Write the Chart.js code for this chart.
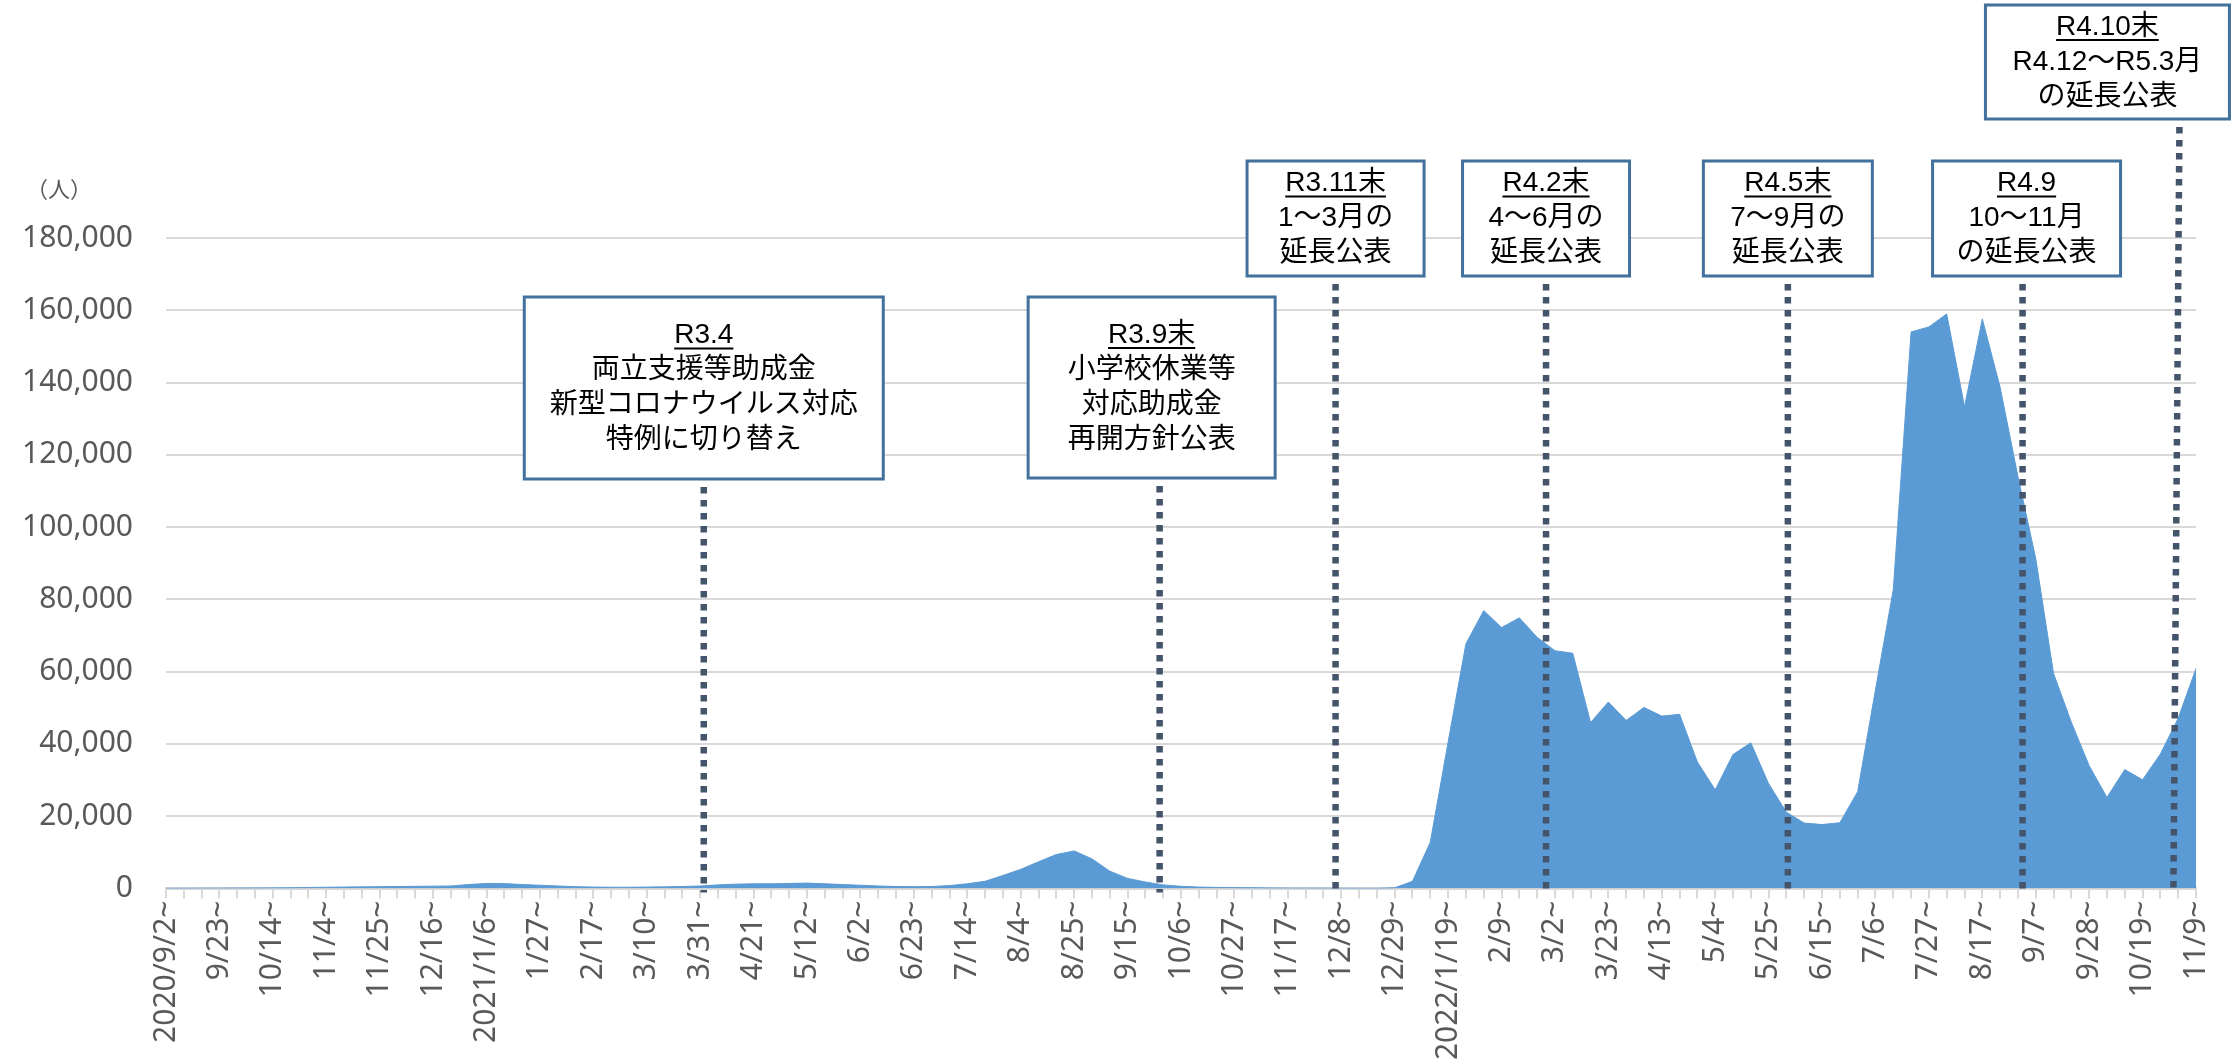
<!DOCTYPE html>
<html lang="ja">
<head>
<meta charset="utf-8">
<script src="https://cdn.jsdelivr.net/npm/chart.js@4.4.1/dist/chart.umd.min.js"></script>
<style>
	html, body { margin: 0; padding: 0; background: #fff; }
	#wrap { position: relative; width: 2234px; height: 1064px; }
</style>
</head>
<body>
<div id="wrap"><canvas id="chart"></canvas></div>
<script>
// weekly values from 2020/9/2 to 2022/11/9 (people)
const weeklyCount = [
	50, 60, 80, 100, 120, 150, 170, 200, 280, 350,
	400, 450, 500, 550, 600, 650, 700, 1100, 1400, 1350,
	1100, 900, 700, 500, 400, 350, 350, 400, 450, 550,
	700, 1000, 1200, 1300, 1300, 1400, 1500, 1300, 1100, 900,
	700, 550, 500, 550, 800, 1300, 2000, 3600, 5300, 7400,
	9400, 10400, 8200, 4800, 2800, 1800, 1000, 600, 400, 300,
	250, 200, 150, 100, 100, 80, 60, 50, 50, 200,
	2000, 12800, 40500, 67700, 76900, 72200, 74900, 69500, 65800, 65100,
	45900, 51600, 46500, 50100, 47700, 48200, 35000, 27300, 37100, 40300,
	29000, 21100, 18100, 17700, 18200, 26800, 55000, 82700, 154000, 155400,
	159000, 133300, 157600, 138700, 114000, 91300, 59500, 46000, 34000, 25200,
	32900, 30100, 37200, 47100, 60900,
];

// one label every 3 weeks
const tickLabels = [
	'2020/9/2~', '9/23~', '10/14~', '11/4~', '11/25~', '12/16~',
	'2021/1/6~', '1/27~', '2/17~', '3/10~', '3/31~', '4/21~', '5/12~',
	'6/2~', '6/23~', '7/14~', '8/4~', '8/25~', '9/15~', '10/6~',
	'10/27~', '11/17~', '12/8~', '12/29~', '2022/1/19~', '2/9~', '3/2~',
	'3/23~', '4/13~', '5/4~', '5/25~', '6/15~', '7/6~', '7/27~',
	'8/17~', '9/7~', '9/28~', '10/19~', '11/9~',
];

const yTicks = [0, 20000, 40000, 60000, 80000, 100000, 120000, 140000, 160000, 180000];

// announcements: week position on the axis, title, body lines
const noteWeeks = [30.2, 55.8, 65.68, 77.5, 91.08, 104.26, 112.73];
const noteTitles = ['R3.4', 'R3.9末', 'R3.11末', 'R4.2末', 'R4.5末', 'R4.9', 'R4.10末'];
const noteBodies = [
	['両立支援等助成金', '新型コロナウイルス対応', '特例に切り替え'],
	['小学校休業等', '対応助成金', '再開方針公表'],
	['1～3月の', '延長公表'],
	['4～6月の', '延長公表'],
	['7～9月の', '延長公表'],
	['10～11月', 'の延長公表'],
	['R4.12～R5.3月', 'の延長公表'],
];

// box geometry (px) for each note
const noteBoxes = [
	{ top: 297, h: 182, w: 359, dx: 0 },
	{ top: 297, h: 181, w: 247, dx: -8 },
	{ top: 161, h: 115, w: 177, dx: 0 },
	{ top: 161, h: 115, w: 167, dx: 0 },
	{ top: 161, h: 115, w: 169, dx: 0 },
	{ top: 161, h: 115, w: 188, dx: 4 },
	{ top: 5, h: 114, w: 244, dx: -72, lean: 0.34 },
];

const categories = weeklyCount.map((_, i) => (i % 3 === 0 ? tickLabels[i / 3] : ''));

const BOX_FONT = '28px "Liberation Sans", "Noto Sans CJK JP", sans-serif';
const AXIS_FONT = 'Noto Sans';

// ---------- ANNOTATIONS ----------
const notePlugin = {
	id: 'notes',
	afterDatasetsDraw(chart) {
		const { ctx, chartArea } = chart;
		const x = chart.scales.x;
		ctx.save();

		noteWeeks.forEach((w, k) => {
			const box = noteBoxes[k];
			const xb = x.getPixelForValue(w);
			const xt = x.getPixelForValue(w + (box.lean || 0));
			const boxBottom = box.top + box.h;

			// dotted marker
			ctx.strokeStyle = '#44546A';
			ctx.lineWidth = 6.5;
			ctx.lineCap = 'butt';
			ctx.setLineDash([6.5, 6.5]);
			ctx.beginPath();
			ctx.moveTo(xt, boxBottom + 8);
			ctx.lineTo(xb, chartArea.bottom + 4);
			ctx.stroke();
			ctx.setLineDash([]);

			// box
			const cx = xt + box.dx;
			const left = cx - box.w / 2;
			ctx.fillStyle = '#fff';
			ctx.fillRect(left, box.top, box.w, box.h);
			ctx.strokeStyle = '#41719C';
			ctx.lineWidth = 3;
			ctx.strokeRect(left, box.top, box.w, box.h);

			// text
			const lines = [noteTitles[k], ...noteBodies[k]];
			const step = 35;
			const first = box.top + box.h / 2 - (step * (lines.length - 1)) / 2;
			ctx.font = BOX_FONT;
			ctx.fillStyle = '#000';
			ctx.textAlign = 'center';
			ctx.textBaseline = 'middle';
			lines.forEach((t, j) => ctx.fillText(t, cx, first + j * step));

			// underline the title
			const tw = ctx.measureText(noteTitles[k]).width;
			ctx.strokeStyle = '#000';
			ctx.lineWidth = 2;
			ctx.beginPath();
			ctx.moveTo(cx - tw / 2, first + 13);
			ctx.lineTo(cx + tw / 2, first + 13);
			ctx.stroke();
		});

		// unit label
		ctx.font = '22px "Noto Sans CJK JP", sans-serif';
		ctx.fillStyle = '#595959';
		ctx.textAlign = 'left';
		ctx.textBaseline = 'middle';
		ctx.fillText('（人）', 26, 189);

		ctx.restore();
	},
};

new Chart(document.getElementById('chart'), {
	type: 'line',
	data: {
		labels: categories,
		datasets: [
			{
				data: weeklyCount,
				fill: 'origin',
				backgroundColor: '#5B9BD5',
				borderColor: '#5B9BD5',
				borderWidth: 1,
				pointRadius: 0,
				tension: 0,
			},
		],
	},
	options: {
		responsive: true,
		maintainAspectRatio: false,
		animation: false,
		layout: { padding: { top: 238, right: 35, left: 0, bottom: 0 } },
		plugins: {
			legend: { display: false },
			tooltip: { enabled: false },
		},
		scales: {
			x: {
				offset: false,
				grid: {
					drawOnChartArea: false,
					drawTicks: true,
					tickLength: 10,
					color: '#D9D9D9',
					lineWidth: 2,
				},
				border: { color: '#D9D9D9', width: 3 },
				ticks: {
					autoSkip: false,
					minRotation: 90,
					maxRotation: 90,
					padding: 2,
					color: '#595959',
					font: { family: AXIS_FONT, size: 30 },
				},
				afterFit(scale) {
					scale.height = 175.5;
				},
			},
			y: {
				min: 0,
				max: 180000,
				afterBuildTicks(scale) {
					scale.ticks = yTicks.map((v) => ({ value: v }));
				},
				grid: { color: '#D9D9D9', lineWidth: 2, drawTicks: false },
				border: { display: false },
				ticks: {
					padding: 33,
					color: '#595959',
					font: { family: AXIS_FONT, size: 30 },
					callback: (v) => v.toLocaleString('en-US'),
				},
				afterFit(scale) {
					scale.width = 166;
				},
			},
		},
	},
	plugins: [notePlugin],
});
</script>
</body>
</html>
